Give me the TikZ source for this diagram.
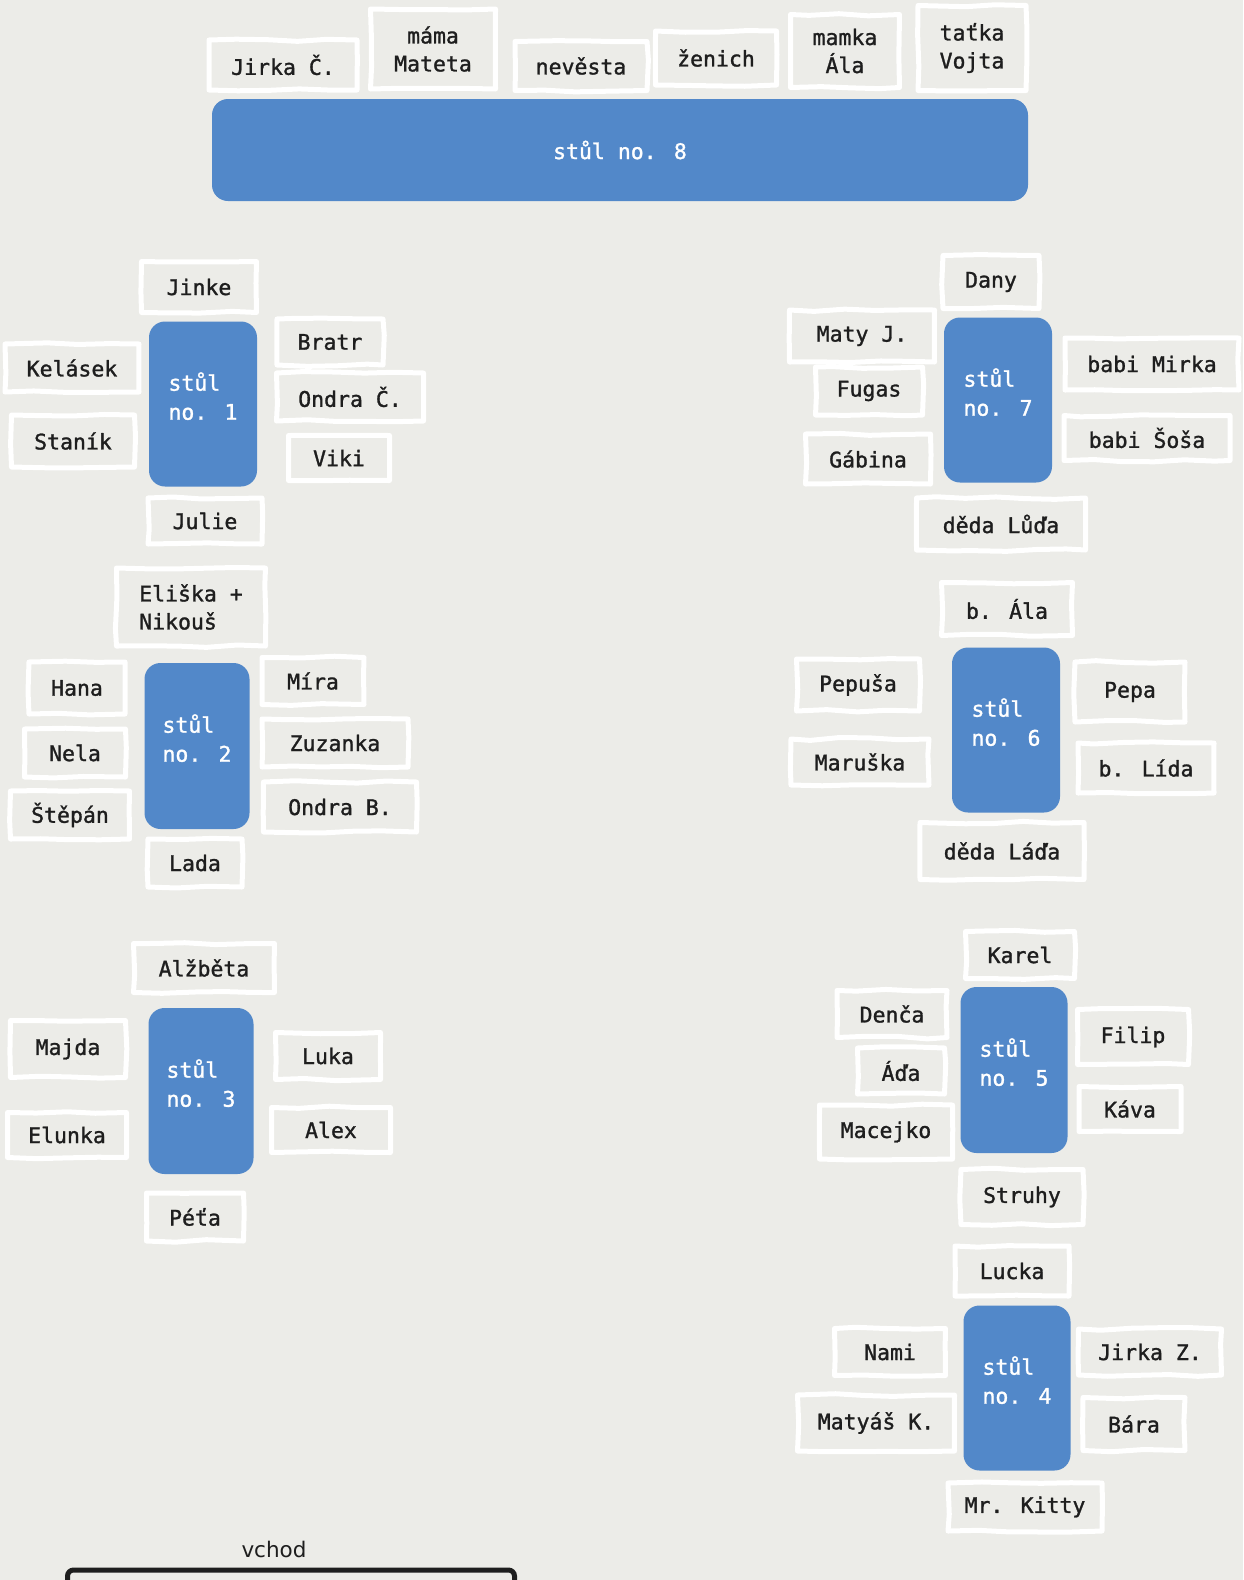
\documentclass[tikz,border=0pt]{standalone}
\usepackage{fontspec}
\newfontfamily\guestfont[FakeBold=1.3]{DejaVu Sans Mono}
\newfontfamily\signfont{DejaVu Sans}
\definecolor{paper}{HTML}{ECECE8}
\definecolor{tableblue}{HTML}{5288C9}
\definecolor{ink}{HTML}{1E1E1E}
\usetikzlibrary{decorations.pathmorphing}
\tikzset{
    guest/.style={draw=white, line width=5pt, line join=round, decorate,
        decoration={random steps, segment length=30pt, amplitude=1.4pt},
        inner sep=0pt, text=ink, align=center,
        font=\guestfont\fontsize{21.5pt}{28pt}\selectfont},
    stul/.style={fill=tableblue, rounded corners=16pt, inner sep=0pt,
        text=white, align=left, font=\guestfont\fontsize{21.5pt}{29pt}\selectfont},
    stulmaly/.style={stul, text depth=16pt}
}

\begin{document}
\begin{tikzpicture}[x=1pt,y=-1pt]
    \fill[paper] (0,0) rectangle (1243,1580);
    \useasboundingbox (0,0) rectangle (1243,1580);

    \node[stul, minimum width=816pt, minimum height=102pt] (t8) at (620,150) {stůl no. 8};
    \node[guest, minimum width=148pt, minimum height=50pt] (jirkac) at (283,65) {Jirka Č.};
    \node[guest, minimum width=125pt, minimum height=80pt] (mama) at (433,49) {máma\\Mateta};
    \node[guest, minimum width=132pt, minimum height=49pt] (nevesta) at (581,66) {nevěsta};
    \node[guest, minimum width=121pt, minimum height=54pt] (zenich) at (716,58) {ženich};
    \node[guest, minimum width=109pt, minimum height=73pt] (mamka) at (845,51) {mamka\\Ála};
    \node[guest, minimum width=108pt, minimum height=85pt] (tatka) at (972,48) {taťka\\Vojta};

    \node[stulmaly, minimum width=108pt, minimum height=165pt] (t1) at (203,404) {stůl\\no. 1};
    \node[guest, minimum width=115pt, minimum height=51pt] (jinke) at (199,287) {Jinke};
    \node[guest, minimum width=134pt, minimum height=48pt] (kelasek) at (72,368) {Kelásek};
    \node[guest, minimum width=123pt, minimum height=52pt] (stanik) at (73,441) {Staník};
    \node[guest, minimum width=106pt, minimum height=46pt] (bratr) at (330,342) {Bratr};
    \node[guest, minimum width=147pt, minimum height=48pt] (ondrac) at (350,397) {Ondra Č.};
    \node[guest, minimum width=101pt, minimum height=45pt] (viki) at (339,458) {Viki};
    \node[guest, minimum width=114pt, minimum height=46pt] (julie) at (205,521) {Julie};

    \node[stulmaly, minimum width=105pt, minimum height=166pt] (t2) at (197,746) {stůl\\no. 2};
    \node[guest, minimum width=149pt, minimum height=78pt, align=left] (eliska) at (191,607) {Eliška +\\Nikouš};
    \node[guest, minimum width=96pt, minimum height=52pt] (hana) at (77,688) {Hana};
    \node[guest, minimum width=101pt, minimum height=48pt] (nela) at (75,753) {Nela};
    \node[guest, minimum width=119pt, minimum height=48pt] (stepan) at (70,815) {Štěpán};
    \node[guest, minimum width=102pt, minimum height=47pt] (mira) at (313,681) {Míra};
    \node[guest, minimum width=146pt, minimum height=48pt] (zuzanka) at (335,743) {Zuzanka};
    \node[guest, minimum width=153pt, minimum height=50pt] (ondrab) at (340,807) {Ondra B.};
    \node[guest, minimum width=94pt, minimum height=48pt] (lada) at (195,863) {Lada};

    \node[stulmaly, minimum width=105pt, minimum height=166pt] (t3) at (201,1091) {stůl\\no. 3};
    \node[guest, minimum width=141pt, minimum height=49pt] (alzbeta) at (204,968) {Alžběta};
    \node[guest, minimum width=115pt, minimum height=57pt] (majda) at (68,1049) {Majda};
    \node[guest, minimum width=119pt, minimum height=45pt] (elunka) at (67,1135) {Elunka};
    \node[guest, minimum width=105pt, minimum height=47pt] (luka) at (328,1056) {Luka};
    \node[guest, minimum width=119pt, minimum height=45pt] (alex) at (331,1130) {Alex};
    \node[guest, minimum width=97pt, minimum height=48pt] (peta) at (195,1217) {Péťa};

    \node[stulmaly, minimum width=108pt, minimum height=165pt] (t7) at (998,400) {stůl\\no. 7};
    \node[guest, minimum width=96pt, minimum height=53pt] (dany) at (991,282) {Dany};
    \node[guest, minimum width=145pt, minimum height=52pt] (matyj) at (862,336) {Maty J.};
    \node[guest, minimum width=107pt, minimum height=48pt] (fugas) at (869,391) {Fugas};
    \node[guest, minimum width=125pt, minimum height=50pt] (gabina) at (868,459) {Gábina};
    \node[guest, minimum width=174pt, minimum height=52pt] (mirka) at (1152,364) {babi Mirka};
    \node[guest, minimum width=166pt, minimum height=45pt] (sosa) at (1147,438) {babi Šoša};
    \node[guest, minimum width=169pt, minimum height=52pt] (luda) at (1001,524) {děda Lůďa};

    \node[stulmaly, minimum width=108pt, minimum height=165pt] (t6) at (1006,730) {stůl\\no. 6};
    \node[guest, minimum width=131pt, minimum height=53pt] (bala) at (1007,609) {b. Ála};
    \node[guest, minimum width=123pt, minimum height=52pt] (pepusa) at (858,685) {Pepuša};
    \node[guest, minimum width=138pt, minimum height=46pt] (maruska) at (860,762) {Maruška};
    \node[guest, minimum width=110pt, minimum height=60pt] (pepa) at (1130,692) {Pepa};
    \node[guest, minimum width=136pt, minimum height=50pt] (lida) at (1146,768) {b. Lída};
    \node[guest, minimum width=164pt, minimum height=57pt] (ladadeda) at (1002,851) {děda Láďa};

    \node[stulmaly, minimum width=107pt, minimum height=166pt] (t5) at (1014,1070) {stůl\\no. 5};
    \node[guest, minimum width=109pt, minimum height=47pt] (karel) at (1020,955) {Karel};
    \node[guest, minimum width=110pt, minimum height=47pt] (denca) at (892,1014) {Denča};
    \node[guest, minimum width=87pt, minimum height=46pt] (ada) at (901,1071) {Áďa};
    \node[guest, minimum width=133pt, minimum height=54pt] (macejko) at (886,1132) {Macejko};
    \node[guest, minimum width=111pt, minimum height=55pt] (filip) at (1133,1037) {Filip};
    \node[guest, minimum width=102pt, minimum height=45pt] (kava) at (1130,1109) {Káva};
    \node[guest, minimum width=122pt, minimum height=55pt] (struhy) at (1022,1197) {Struhy};

    \node[stulmaly, minimum width=107pt, minimum height=165pt] (t4) at (1017,1388) {stůl\\no. 4};
    \node[guest, minimum width=114pt, minimum height=50pt] (lucka) at (1012,1271) {Lucka};
    \node[guest, minimum width=111pt, minimum height=47pt] (nami) at (890,1352) {Nami};
    \node[guest, minimum width=157pt, minimum height=56pt] (matyask) at (876,1423) {Matyáš K.};
    \node[guest, minimum width=143pt, minimum height=46pt] (jirkaz) at (1150,1352) {Jirka Z.};
    \node[guest, minimum width=102pt, minimum height=53pt] (bara) at (1134,1424) {Bára};
    \node[guest, minimum width=154pt, minimum height=48pt] (kitty) at (1025,1507) {Mr. Kitty};

    \node[draw=ink, line width=5pt, rounded corners=6pt, minimum width=447pt, minimum height=60pt] (vchod) at (291,1600) {};
    \node[text=ink, font=\signfont\fontsize{21.5pt}{26pt}\selectfont] (vchodlabel) at (274,1549) {vchod};
\end{tikzpicture}
\end{document}
